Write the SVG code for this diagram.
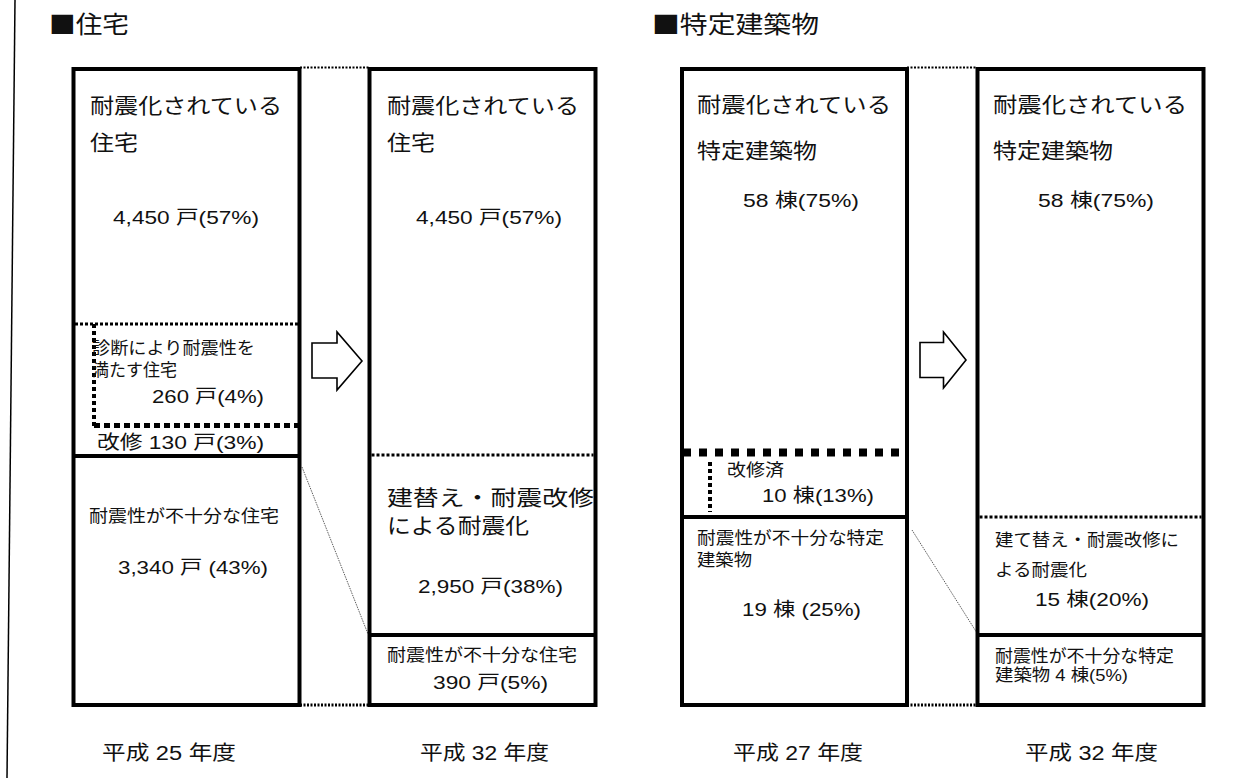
<svg xmlns="http://www.w3.org/2000/svg" width="1242" height="778" viewBox="0 0 1242 778">
<style>
text{font-family:"Liberation Sans","Noto Sans CJK JP",sans-serif;fill:#111}
.big{font-size:21px}
.num{font-size:19px}
.sm{font-size:17px}
.ttl{font-size:24px;font-family:"Noto Sans CJK JP",sans-serif}
.yr{font-size:20px}
.box{fill:none;stroke:#000;stroke-width:4}
.solid{stroke:#000;stroke-width:4}
.dot{stroke:#000;stroke-width:3;stroke-dasharray:3 2;fill:none}
.fine{stroke:#000;stroke-width:2;stroke-dasharray:2 1.5;fill:none}
.diag{stroke:#333;stroke-width:0.8;stroke-dasharray:1.5 1;fill:none}
.arrow{fill:#fff;stroke:#000;stroke-width:1.6;stroke-linejoin:miter}
</style>
<rect width="1242" height="778" fill="#fff"/>
<line x1="15" y1="0" x2="7" y2="778" stroke="#000" stroke-width="1.5"/>

<g id="titles">
<text class="ttl" x="49" y="33" textLength="80" lengthAdjust="spacingAndGlyphs">■住宅</text>
<text class="ttl" x="652" y="33" textLength="167" lengthAdjust="spacingAndGlyphs">■特定建築物</text>
</g>

<g id="connectors">
<line class="fine" x1="300" y1="67.5" x2="369" y2="67.5"/>
<line class="fine" x1="300" y1="705" x2="369" y2="705" style="stroke-width:3"/>
<line class="fine" x1="907" y1="67.5" x2="977" y2="67.5"/>
<line class="fine" x1="907" y1="705" x2="977" y2="705" style="stroke-width:3"/>
<line class="diag" x1="302" y1="467" x2="368" y2="634"/>
<line class="diag" x1="912" y1="530" x2="977" y2="633"/>
<polygon class="arrow" points="312,343 337,343 337,332 362,361 337,390 337,378 312,378"/>
<polygon class="arrow" points="920,342.5 943.5,342.5 943.5,332 966,360 943.5,388 943.5,377.5 920,377.5"/>
</g>

<g id="node-h25">
<rect class="box" x="73.5" y="69" width="226" height="636"/>
<line class="dot" x1="75" y1="324" x2="299" y2="324"/>
<line x1="94" y1="324" x2="94" y2="428" stroke="#000" stroke-width="4" stroke-dasharray="4 3"/>
<line x1="94" y1="425.5" x2="300" y2="425.5" stroke="#000" stroke-width="5" stroke-dasharray="6 4"/>
<line class="solid" x1="73.5" y1="456" x2="299.5" y2="456"/>
<text class="big" x="90" y="113" textLength="192" lengthAdjust="spacingAndGlyphs">耐震化されている</text>
<text class="big" x="90" y="150" textLength="48" lengthAdjust="spacingAndGlyphs">住宅</text>
<text class="num" x="113" y="224" textLength="146" lengthAdjust="spacingAndGlyphs">4,450 戸(57%)</text>
<text class="sm" x="92" y="354" textLength="163" lengthAdjust="spacingAndGlyphs">診断により耐震性を</text>
<text class="sm" x="92" y="376" textLength="85" lengthAdjust="spacingAndGlyphs">満たす住宅</text>
<text class="num" x="152" y="403" textLength="112" lengthAdjust="spacingAndGlyphs">260 戸(4%)</text>
<text class="num" x="97" y="449" textLength="167" lengthAdjust="spacingAndGlyphs">改修 130 戸(3%)</text>
<text class="sm" x="89" y="522" textLength="190" lengthAdjust="spacingAndGlyphs">耐震性が不十分な住宅</text>
<text class="num" x="118" y="574" textLength="150" lengthAdjust="spacingAndGlyphs">3,340 戸 (43%)</text>
<text class="yr" x="102" y="760" textLength="134" lengthAdjust="spacingAndGlyphs">平成 25 年度</text>
</g>

<g id="node-h32">
<rect class="box" x="369.5" y="69" width="226" height="636"/>
<line class="dot" x1="371.5" y1="455" x2="593.5" y2="455"/>
<line class="solid" x1="369.5" y1="635" x2="595.5" y2="635"/>
<text class="big" x="387" y="113" textLength="192" lengthAdjust="spacingAndGlyphs">耐震化されている</text>
<text class="big" x="387" y="150" textLength="48" lengthAdjust="spacingAndGlyphs">住宅</text>
<text class="num" x="416" y="224" textLength="146" lengthAdjust="spacingAndGlyphs">4,450 戸(57%)</text>
<text class="big" x="387" y="505" textLength="207" lengthAdjust="spacingAndGlyphs">建替え・耐震改修</text>
<text class="big" x="387" y="533" textLength="142" lengthAdjust="spacingAndGlyphs">による耐震化</text>
<text class="num" x="418" y="593" textLength="145" lengthAdjust="spacingAndGlyphs">2,950 戸(38%)</text>
<text class="sm" x="387" y="661" textLength="190" lengthAdjust="spacingAndGlyphs">耐震性が不十分な住宅</text>
<text class="num" x="433" y="689" textLength="115" lengthAdjust="spacingAndGlyphs">390 戸(5%)</text>
<text class="yr" x="420" y="760" textLength="129" lengthAdjust="spacingAndGlyphs">平成 32 年度</text>
</g>

<g id="node-t27">
<rect class="box" x="682" y="69" width="225" height="636"/>
<line x1="683" y1="452.5" x2="907" y2="452.5" stroke="#000" stroke-width="8" stroke-dasharray="8 8"/>
<line x1="710" y1="462" x2="710" y2="512" stroke="#000" stroke-width="4" stroke-dasharray="4 3"/>
<line class="solid" x1="682" y1="517" x2="907" y2="517"/>
<text class="big" x="697" y="112" textLength="194" lengthAdjust="spacingAndGlyphs">耐震化されている</text>
<text class="big" x="697" y="158" textLength="120" lengthAdjust="spacingAndGlyphs">特定建築物</text>
<text class="num" x="743" y="207" textLength="116" lengthAdjust="spacingAndGlyphs">58 棟(75%)</text>
<text class="sm" x="727" y="476" textLength="57" lengthAdjust="spacingAndGlyphs">改修済</text>
<text class="num" x="762" y="502" textLength="112" lengthAdjust="spacingAndGlyphs">10 棟(13%)</text>
<text class="sm" x="697" y="544" textLength="187" lengthAdjust="spacingAndGlyphs">耐震性が不十分な特定</text>
<text class="sm" x="697" y="566" textLength="55" lengthAdjust="spacingAndGlyphs">建築物</text>
<text class="num" x="742" y="616" textLength="119" lengthAdjust="spacingAndGlyphs">19 棟 (25%)</text>
<text class="yr" x="733" y="760" textLength="130" lengthAdjust="spacingAndGlyphs">平成 27 年度</text>
</g>

<g id="node-t32">
<rect class="box" x="977.5" y="69" width="226" height="636"/>
<line class="dot" x1="979.5" y1="517" x2="1201.5" y2="517"/>
<line class="solid" x1="977.5" y1="635" x2="1203.5" y2="635"/>
<text class="big" x="993" y="112" textLength="194" lengthAdjust="spacingAndGlyphs">耐震化されている</text>
<text class="big" x="993" y="158" textLength="120" lengthAdjust="spacingAndGlyphs">特定建築物</text>
<text class="num" x="1038" y="207" textLength="116" lengthAdjust="spacingAndGlyphs">58 棟(75%)</text>
<text class="sm" x="995" y="546" textLength="184" lengthAdjust="spacingAndGlyphs">建て替え・耐震改修に</text>
<text class="sm" x="995" y="576" textLength="92" lengthAdjust="spacingAndGlyphs">よる耐震化</text>
<text class="num" x="1035" y="606" textLength="114" lengthAdjust="spacingAndGlyphs">15 棟(20%)</text>
<text class="sm" x="995" y="662" textLength="179" lengthAdjust="spacingAndGlyphs">耐震性が不十分な特定</text>
<text class="sm" x="995" y="681" textLength="133" lengthAdjust="spacingAndGlyphs">建築物 4 棟(5%)</text>
<text class="yr" x="1025" y="760" textLength="133" lengthAdjust="spacingAndGlyphs">平成 32 年度</text>
</g>
</svg>
